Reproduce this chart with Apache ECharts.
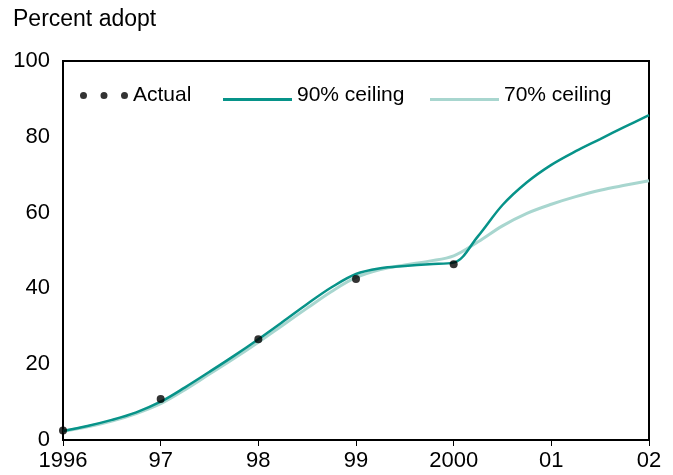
<!DOCTYPE html>
<html>
<head>
<meta charset="utf-8">
<script src="https://cdn.jsdelivr.net/npm/echarts@6/dist/echarts.min.js"></script>
<style>html,body{margin:0;padding:0;background:#fff}#c{width:673px;height:475px}</style>
</head>
<body>
<div id="c"></div>
<script>
const yAxisTitle = 'Percent adopt';
const xTickLabels = {1996:'1996',1997:'97',1998:'98',1999:'99',2000:'2000',2001:'01',2002:'02'};
const actualYears = [1996, 1997, 1998, 1999, 2000];
const actualValues = [2.5, 10.8, 26.6, 42.5, 46.4];
const curveYears = [1996, 1996.25, 1996.5, 1996.75, 1997, 1997.25, 1997.5, 1997.75, 1998, 1998.25, 1998.5, 1998.75,
  1999, 1999.25, 1999.5, 1999.75, 2000, 2000.25, 2000.5, 2000.75, 2001, 2001.25, 2001.5, 2001.75, 2002];
const ceil90Values = [2.4, 3.7, 5.3, 7.3, 10.1, 13.9, 18.0, 22.2, 26.6, 31.2, 35.9, 40.3,
  43.8, 45.3, 45.9, 46.4, 46.8, 53.8, 62.0, 68.0, 72.6, 76.2, 79.4, 82.6, 85.7];
const ceil70Values = [2.3, 3.5, 5.0, 7.0, 9.6, 13.3, 17.4, 21.5, 25.8, 30.3, 34.8, 39.2,
  42.9, 45.0, 46.2, 47.2, 48.6, 52.3, 56.5, 59.8, 62.2, 64.2, 65.9, 67.2, 68.4];

const pair = (xs, ys) => xs.map((x, i) => [x, ys[i]]);
const DARK = '#079389', LIGHT = '#a8d6cf';
const FONT = 'Liberation Sans, Arial, sans-serif';
const dotsIcon = 'path://M0,3.5a3.5,3.5 0 1,0 7,0a3.5,3.5 0 1,0 -7,0Z M20.5,3.5a3.5,3.5 0 1,0 7,0a3.5,3.5 0 1,0 -7,0Z M41,3.5a3.5,3.5 0 1,0 7,0a3.5,3.5 0 1,0 -7,0Z';
const lineIcon = 'path://M0,0h0.1v0.1h-0.1Z M0,8h69v3h-69Z';
const legendText = {fontFamily: FONT, fontSize: 21, color: '#000'};

const chart = echarts.init(document.getElementById('c'), null, {renderer: 'canvas'});
chart.setOption({
  animation: false,
  backgroundColor: '#fff',
  title: {text: yAxisTitle, left: 8, top: 3, textStyle: {fontFamily: FONT, fontSize: 23, fontWeight: 'normal', color: '#000'}},
  grid: {left: 63, right: 24, top: 61, bottom: 35, show: true, borderColor: '#000', borderWidth: 2, backgroundColor: 'transparent'},
  legend: [
    {data: [{name: 'Actual', icon: dotsIcon}], left: 75, top: 80, itemWidth: 48, itemHeight: 7, textStyle: legendText},
    {data: [{name: '90% ceiling', icon: lineIcon}], left: 218, top: 80, itemWidth: 69, itemHeight: 11, textStyle: legendText},
    {data: [{name: '70% ceiling', icon: lineIcon}], left: 425, top: 80, itemWidth: 69, itemHeight: 11, textStyle: legendText}
  ],
  xAxis: {
    type: 'value', min: 1996, max: 2002, interval: 1,
    axisLine: {show: true, lineStyle: {color: '#000', width: 2}},
    axisTick: {show: true, length: 6, lineStyle: {color: '#000', width: 1}},
    splitLine: {show: false},
    axisLabel: {margin: 10, fontFamily: FONT, fontSize: 22, color: '#000', formatter: v => xTickLabels[v] || ''}
  },
  yAxis: {
    type: 'value', min: 0, max: 100, interval: 20,
    axisLine: {show: true, lineStyle: {color: '#000', width: 2}},
    axisTick: {show: false},
    splitLine: {show: false},
    axisLabel: {margin: 13, fontFamily: FONT, fontSize: 22, color: '#000'}
  },
  series: [
    {name: '70% ceiling', type: 'line', data: pair(curveYears, ceil70Values), smooth: 0.35, showSymbol: false,
     lineStyle: {color: LIGHT, width: 3}, itemStyle: {color: LIGHT}, z: 2},
    {name: '90% ceiling', type: 'line', data: pair(curveYears, ceil90Values), smooth: 0.35, showSymbol: false,
     lineStyle: {color: DARK, width: 2.5}, itemStyle: {color: DARK}, z: 3},
    {name: 'Actual', type: 'scatter', data: pair(actualYears, actualValues), symbolSize: 8,
     itemStyle: {color: '#000'}, z: 5}
  ]
});
</script>
</body>
</html>
